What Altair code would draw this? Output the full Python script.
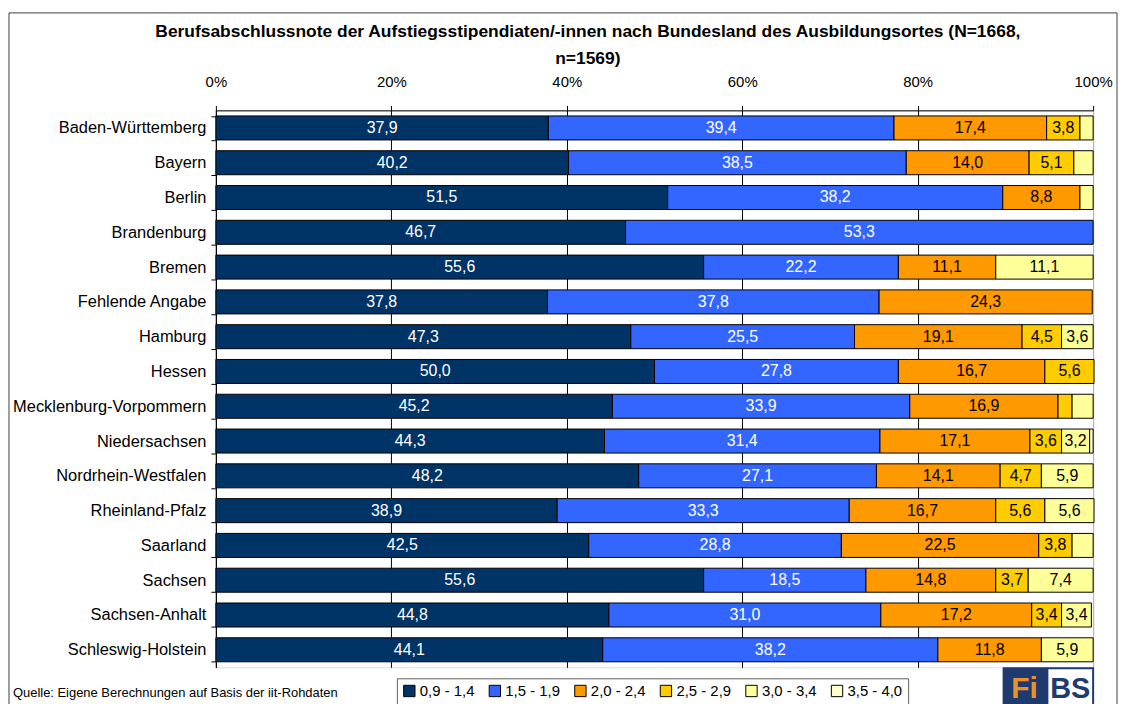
import altair as alt
import pandas as pd

states = ["Baden-Württemberg", "Bayern", "Berlin", "Brandenburg", "Bremen",
          "Fehlende Angabe", "Hamburg", "Hessen", "Mecklenburg-Vorpommern",
          "Niedersachsen", "Nordrhein-Westfalen", "Rheinland-Pfalz", "Saarland",
          "Sachsen", "Sachsen-Anhalt", "Schleswig-Holstein"]
grades = ["0,9 - 1,4", "1,5 - 1,9", "2,0 - 2,4", "2,5 - 2,9", "3,0 - 3,4", "3,5 - 4,0"]
colors = ["#003366", "#3366FF", "#FF9900", "#FFCC00", "#FFFF99", "#FFFFCC"]

g09_14 = [37.9, 40.2, 51.5, 46.7, 55.6, 37.8, 47.3, 50.0, 45.2, 44.3, 48.2, 38.9, 42.5, 55.6, 44.8, 44.1]
g15_19 = [39.4, 38.5, 38.2, 53.3, 22.2, 37.8, 25.5, 27.8, 33.9, 31.4, 27.1, 33.3, 28.8, 18.5, 31.0, 38.2]
g20_24 = [17.4, 14.0, 8.8, 0.0, 11.1, 24.3, 19.1, 16.7, 16.9, 17.1, 14.1, 16.7, 22.5, 14.8, 17.2, 11.8]
g25_29 = [3.8, 5.1, 0.0, 0.0, 0.0, 0.0, 4.5, 5.6, 1.6, 3.6, 4.7, 5.6, 3.8, 3.7, 3.4, 0.0]
g30_34 = [1.5, 2.2, 1.5, 0.0, 11.1, 0.0, 3.6, 0.0, 2.4, 3.2, 5.9, 5.6, 2.4, 7.4, 3.4, 5.9]
g35_40 = [0.0, 0.0, 0.0, 0.0, 0.0, 0.0, 0.0, 0.0, 0.0, 0.4, 0.0, 0.0, 0.0, 0.0, 0.0, 0.0]

title_lines = ["Berufsabschlussnote der Aufstiegsstipendiaten/-innen nach Bundesland des Ausbildungsortes (N=1668,",
               "n=1569)"]
source_text = "Quelle: Eigene Berechnungen auf Basis der iit-Rohdaten"

series = [g09_14, g15_19, g20_24, g25_29, g30_34, g35_40]
rows = []
for gi, (g, vals) in enumerate(zip(grades, series)):
    for s, v in zip(states, vals):
        if v > 0:
            rows.append({"state": s, "grade": g, "order": gi, "value": v,
                         "label": (f"{v:.1f}".replace(".", ",") if v >= 3 else "")})
df = pd.DataFrame(rows)

FONT = "Liberation Sans"
W, H = 882, 560

base = alt.Chart(df).transform_stack(
    stack="value", groupby=["state"], as_=["x0", "x1"],
    sort=[alt.SortField("order", order="ascending")]
).transform_calculate(mid="(datum.x0 + datum.x1) / 2")

y_enc = alt.Y("state:N", sort=states, title=None,
              scale=alt.Scale(paddingInner=0.31, paddingOuter=0.16),
              axis=alt.Axis(tickBand="extent", tickSize=5, tickColor="black",
                            domainColor="black", labelFontSize=16.5, labelColor="black",
                            labelPadding=5, labelFont=FONT, grid=False, labelLimit=300))

bars = base.mark_bar(stroke="black", strokeWidth=1).encode(
    x=alt.X("x0:Q", title=None,
            scale=alt.Scale(domain=[0, 100], nice=False),
            axis=alt.Axis(orient="top", values=[0, 20, 40, 60, 80, 100],
                          labelExpr="datum.value + '%'", labelFontSize=15,
                          labelFont=FONT, labelColor="black", labelPadding=16,
                          labelFlush=False,
                          tickSize=5, tickColor="black", domainColor="black",
                          grid=True,
                          gridColor={"condition": {"test": "datum.value === 100", "value": "#b0b0b0"},
                                     "value": "black"},
                          gridWidth=1)),
    x2="x1:Q",
    y=y_enc,
    color=alt.Color("grade:N", sort=grades,
                    scale=alt.Scale(domain=grades, range=colors),
                    legend=alt.Legend(title=None, orient="none", legendX=182, legendY=571,
                                      direction="horizontal", columns=6,
                                      symbolType="square", symbolSize=130,
                                      symbolStrokeColor="black", symbolStrokeWidth=1,
                                      labelFontSize=15, labelFont=FONT, labelColor="black",
                                      columnPadding=11, symbolOffset=0,
                                      strokeColor="#606060", padding=5,
                                      labelOffset=3)),
)

labels = base.mark_text(fontSize=16, font=FONT, align="center", baseline="middle").encode(
    x=alt.X("mid:Q"),
    y=alt.Y("state:N", sort=states),
    text="label:N",
    color=alt.condition("datum.order < 2", alt.value("white"), alt.value("black")),
)

src = alt.Chart(pd.DataFrame({"t": [source_text]})).mark_text(
    align="left", baseline="alphabetic", fontSize=13, font=FONT, color="black"
).encode(x=alt.value(-204), y=alt.value(590), text="t:N")

frame_top = alt.Chart(pd.DataFrame({"a": [0]})).mark_rule(color="#404040", strokeWidth=1).encode(
    x=alt.value(-208), x2=alt.value(906), y=alt.value(-98))
frame_left = alt.Chart(pd.DataFrame({"a": [0]})).mark_rule(color="#404040", strokeWidth=1).encode(
    x=alt.value(-208), y=alt.value(-98), y2=alt.value(610))
frame_right = alt.Chart(pd.DataFrame({"a": [0]})).mark_rule(color="#404040", strokeWidth=1).encode(
    x=alt.value(906), y=alt.value(-98), y2=alt.value(610))

logo_df = pd.DataFrame({"a": [0]})
logo_dark = alt.Chart(logo_df).mark_rect(color="#1F3A6E").encode(
    x=alt.value(791), x2=alt.value(836), y=alt.value(560), y2=alt.value(605))
logo_white = alt.Chart(logo_df).mark_rect(fill="white", stroke="#1F3A6E", strokeWidth=2).encode(
    x=alt.value(836), x2=alt.value(882), y=alt.value(561), y2=alt.value(605))
logo_fi = alt.Chart(pd.DataFrame({"t": ["Fi"]})).mark_text(
    fontSize=30, fontWeight="bold", font=FONT, color="#E8922A", align="center", baseline="alphabetic"
).encode(x=alt.value(813), y=alt.value(591), text="t:N")
logo_bs = alt.Chart(pd.DataFrame({"t": ["BS"]})).mark_text(
    fontSize=29, fontWeight="bold", font=FONT, color="#1F3A6E", align="center", baseline="alphabetic"
).encode(x=alt.value(859), y=alt.value(591), text="t:N")

chart = alt.layer(
    bars, labels, src, frame_top, frame_left, frame_right,
    logo_dark, logo_white, logo_fi, logo_bs
).properties(
    width=W, height=H,
    padding={"left": 0, "top": 2, "right": 0, "bottom": 0},
    title=alt.TitleParams(text=title_lines, anchor="middle", frame="group",
                          fontSize=17.5, fontWeight="bold", font=FONT, color="black",
                          lineHeight=27, dx=-67, offset=-55),
).configure_view(stroke=None).configure(background="white")

chart.save("out.html", embed_options={"renderer": "svg", "actions": False})
